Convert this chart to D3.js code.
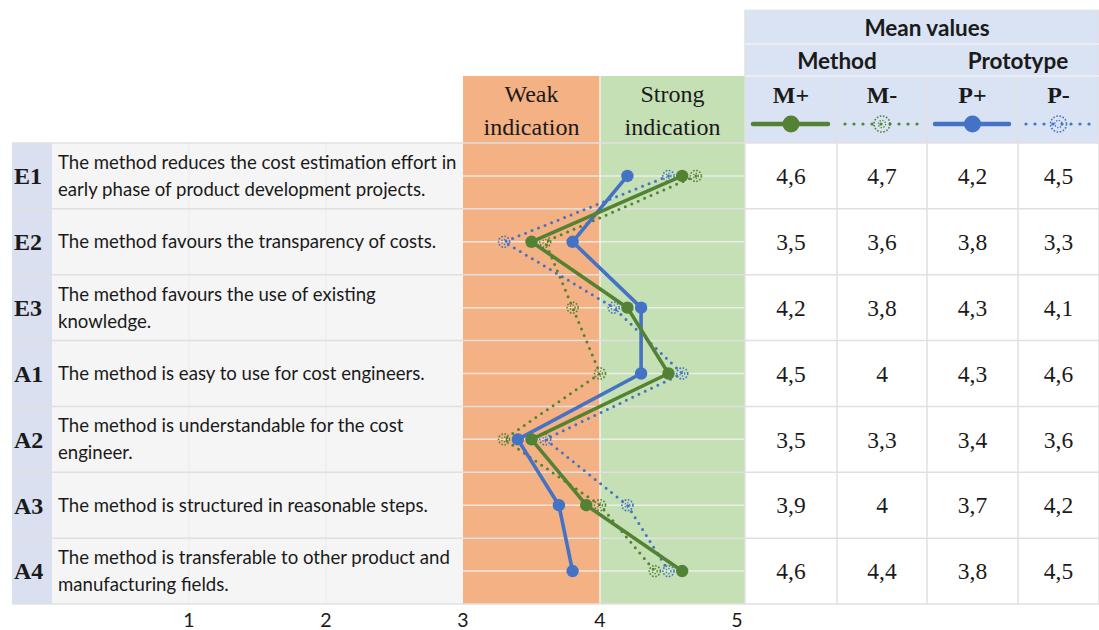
<!DOCTYPE html>
<html>
  <head>
    <style type="text/css">
      body { margin:0; background:#fff; }
      svg text { fill:#1a1a1a; }
      .sans { font-family:Lato,"Open Sans",sans-serif; }
      .serif { font-family:"Liberation Serif","DejaVu Serif",serif; }
    </style>
  </head>
  <body>
    <div id="canvas"></div>
    <script type="text/javascript" src="https://cdn.jsdelivr.net/npm/d3@7"></script>
    <script type="text/javascript">
      // rows of the questionnaire
      var codes = ["E1", "E2", "E3", "A1", "A2", "A3", "A4"];
      var statements = [
        ["The method reduces the cost estimation effort in", "early phase of product development projects."],
        ["The method favours the transparency of costs."],
        ["The method favours the use of existing", "knowledge."],
        ["The method is easy to use for cost engineers."],
        ["The method is understandable for the cost", "engineer."],
        ["The method is structured in reasonable steps."],
        ["The method is transferable to other product and", "manufacturing fields."]
      ];

      // mean values
      var mPlus  = [4.6, 3.5, 4.2, 4.5, 3.5, 3.9, 4.6];
      var mMinus = [4.7, 3.6, 3.8, 4.0, 3.3, 4.0, 4.4];
      var pPlus  = [4.2, 3.8, 4.3, 4.3, 3.4, 3.7, 3.8];
      var pMinus = [4.5, 3.3, 4.1, 4.6, 3.6, 4.2, 4.5];

      var xTicks = [1, 2, 3, 4, 5];
      var seriesNames = ["M+", "M-", "P+", "P-"];

      var GREEN = "#548235", BLUE = "#4472c4";
      var series = [
        {name: "P-", values: pMinus, color: BLUE, dotted: true},
        {name: "M-", values: mMinus, color: GREEN, dotted: true},
        {name: "P+", values: pPlus, color: BLUE, dotted: false},
        {name: "M+", values: mPlus, color: GREEN, dotted: false}
      ];

      var W = 1099, H = 630;
      var svg = d3.select("#canvas").append("svg")
        .attr("width", W).attr("height", H);

      var x = d3.scaleLinear().domain([0, 5]).range([52, 737]);
      var y = d3.scaleBand().domain(codes).range([143, 604]);
      var tableLeft = 745, tableRight = 1099;
      var colEdges = [745, 837, 927, 1018, 1099];

      // backgrounds
      svg.append("rect").attr("x", 12).attr("y", 143).attr("width", 40).attr("height", 461).attr("fill", "#dae0f0");
      svg.append("rect").attr("x", 52).attr("y", 143).attr("width", x(3) - 52).attr("height", 461).attr("fill", "#f5f5f5");
      svg.append("rect").attr("x", x(3)).attr("y", 76).attr("width", x(4) - x(3)).attr("height", 604 - 76).attr("fill", "#f4b183");
      svg.append("rect").attr("x", x(4)).attr("y", 76).attr("width", tableLeft - x(4)).attr("height", 604 - 76).attr("fill", "#c5e0b4");
      svg.append("rect").attr("x", tableLeft).attr("y", 10).attr("width", tableRight - tableLeft).attr("height", 133).attr("fill", "#dae3f3");

      // vertical gridlines
      svg.append("g").selectAll("line").data([1, 2]).enter().append("line")
        .attr("x1", function (d) { return x(d); }).attr("x2", function (d) { return x(d); })
        .attr("y1", 143).attr("y2", 604)
        .attr("stroke", "#ebebeb").attr("stroke-width", 1);
      svg.append("line").attr("x1", x(4)).attr("x2", x(4)).attr("y1", 76).attr("y2", 604)
        .attr("stroke", "#f2f2f2").attr("stroke-width", 1.5);

      // horizontal gridlines (half rows) in the chart zone
      var halfLines = [];
      codes.forEach(function (c) { halfLines.push(y(c) + y.bandwidth() / 2); });
      svg.append("g").selectAll("line").data(halfLines).enter().append("line")
        .attr("x1", x(3)).attr("x2", tableLeft)
        .attr("y1", function (d) { return d; }).attr("y2", function (d) { return d; })
        .attr("stroke", "#f2f2f2").attr("stroke-opacity", 0.8).attr("stroke-width", 1.5);

      // row borders
      var rowEdges = codes.map(function (c) { return y(c); }).concat([604]);
      svg.append("g").selectAll("line").data(rowEdges).enter().append("line")
        .attr("x1", 12).attr("x2", tableRight)
        .attr("y1", function (d) { return d; }).attr("y2", function (d) { return d; })
        .attr("stroke", "#e0e0e0").attr("stroke-width", 1.5);

      // table column borders
      svg.append("g").selectAll("line").data(colEdges).enter().append("line")
        .attr("x1", function (d) { return d; }).attr("x2", function (d) { return d; })
        .attr("y1", function (d, i) { return (i === 0 || i === 4) ? 10 : 76; }).attr("y2", 604)
        .attr("stroke", "#e0e0e0").attr("stroke-width", 1.5);
      svg.append("g").selectAll("line").data([44, 76]).enter().append("line")
        .attr("x1", tableLeft).attr("x2", tableRight)
        .attr("y1", function (d) { return d; }).attr("y2", function (d) { return d; })
        .attr("stroke", "#f0f0f0").attr("stroke-width", 1.5);
      svg.append("line").attr("x1", tableLeft).attr("x2", tableRight).attr("y1", 10).attr("y2", 10)
        .attr("stroke", "#e6e6e6").attr("stroke-width", 1);

      // row codes and statements
      var rows = svg.append("g").selectAll("g").data(codes).enter().append("g")
        .attr("transform", function (d) { return "translate(0," + (y(d) + y.bandwidth() / 2) + ")"; });
      rows.append("text").attr("class", "serif")
        .attr("x", 14).attr("dy", "0.35em")
        .attr("font-size", 24).attr("font-weight", "bold")
        .text(function (d) { return d; });
      rows.each(function (d, i) {
        var lines = statements[i];
        var t = d3.select(this).append("text").attr("class", "sans").attr("font-size", 18.6);
        lines.forEach(function (l, j) {
          t.append("tspan").attr("x", 58)
            .attr("y", (j - (lines.length - 1) / 2) * 27)
            .attr("dy", "0.35em").text(l);
        });
      });

      // chart header
      var bandHeads = [
        {cx: (x(3) + x(4)) / 2, lines: ["Weak", "indication"]},
        {cx: (x(4) + tableLeft) / 2, lines: ["Strong", "indication"]}
      ];
      bandHeads.forEach(function (b) {
        var t = svg.append("text").attr("class", "serif").attr("font-size", 24).attr("text-anchor", "middle");
        b.lines.forEach(function (l, j) {
          t.append("tspan").attr("x", b.cx).attr("y", 94 + j * 33).attr("dy", "0.35em").text(l);
        });
      });

      // table header
      svg.append("text").attr("class", "sans").attr("x", colEdges[2]).attr("y", 28)
        .attr("dy", "0.35em").attr("text-anchor", "middle").attr("font-size", 22.5).attr("font-weight", "bold")
        .text("Mean values");
      svg.append("text").attr("class", "sans").attr("x", colEdges[1]).attr("y", 61)
        .attr("dy", "0.35em").attr("text-anchor", "middle").attr("font-size", 22.5).attr("font-weight", "bold")
        .text("Method");
      svg.append("text").attr("class", "sans").attr("x", colEdges[3]).attr("y", 61)
        .attr("dy", "0.35em").attr("text-anchor", "middle").attr("font-size", 22.5).attr("font-weight", "bold")
        .text("Prototype");

      var colCenter = function (i) { return (colEdges[i] + colEdges[i + 1]) / 2; };
      var colIndex = {"M+": 0, "M-": 1, "P+": 2, "P-": 3};

      // draw a hollow dotted marker
      var hollow = function (g, cx, cy, color, r) {
        g.append("circle").attr("cx", cx).attr("cy", cy).attr("r", r)
          .attr("fill", "none").attr("stroke", color).attr("stroke-width", 1.6)
          .attr("stroke-dasharray", "1.6 1.6");
        g.append("circle").attr("cx", cx).attr("cy", cy).attr("r", r * 0.45)
          .attr("fill", "none").attr("stroke", color).attr("stroke-width", 1.3)
          .attr("stroke-dasharray", "1.3 1.5");
      };

      // legend row
      series.forEach(function (s) {
        var i = colIndex[s.name];
        var cx = colCenter(i);
        svg.append("text").attr("class", "serif").attr("x", cx).attr("y", 95)
          .attr("dy", "0.35em").attr("text-anchor", "middle").attr("font-size", 24).attr("font-weight", "bold")
          .text(s.name);
        var g = svg.append("g");
        g.append("line").attr("x1", colEdges[i] + 8).attr("x2", colEdges[i + 1] - 9)
          .attr("y1", 124).attr("y2", 124)
          .attr("stroke", s.color).attr("stroke-width", s.dotted ? 3.2 : 4.5)
          .attr("stroke-linecap", "round")
          .attr("stroke-dasharray", s.dotted ? "0 9" : null);
        if (s.dotted) {
          hollow(g, cx, 124, s.color, 8);
        } else {
          g.append("circle").attr("cx", cx).attr("cy", 124).attr("r", 8.5).attr("fill", s.color);
        }
      });

      // table values
      var fmt = function (v) { return String(v).replace(".", ","); };
      seriesNames.forEach(function (name) {
        var s = series.filter(function (d) { return d.name === name; })[0];
        var i = colIndex[name];
        svg.append("g").selectAll("text").data(s.values).enter().append("text")
          .attr("class", "serif")
          .attr("x", colCenter(i))
          .attr("y", function (d, k) { return y(codes[k]) + y.bandwidth() / 2; })
          .attr("dy", "0.35em").attr("text-anchor", "middle").attr("font-size", 23.5)
          .text(fmt);
      });

      // lines
      var line = d3.line()
        .x(function (d) { return x(d); })
        .y(function (d, k) { return y(codes[k]) + y.bandwidth() / 2; });

      series.forEach(function (s) {
        var g = svg.append("g");
        g.append("path").datum(s.values)
          .attr("d", line)
          .attr("fill", "none")
          .attr("stroke", s.color)
          .attr("stroke-width", s.dotted ? 3 : 3.6)
          .attr("stroke-linecap", "round")
          .attr("stroke-linejoin", "round")
          .attr("stroke-dasharray", s.dotted ? "0 7" : null);
        s.values.forEach(function (v, k) {
          var cy = y(codes[k]) + y.bandwidth() / 2;
          if (s.dotted) {
            hollow(g, x(v), cy, s.color, 5.5);
          } else {
            g.append("circle").attr("cx", x(v)).attr("cy", cy).attr("r", 6.2).attr("fill", s.color);
          }
        });
      });

      // bottom axis labels
      svg.append("g").selectAll("text").data(xTicks).enter().append("text")
        .attr("class", "sans")
        .attr("x", function (d) { return x(d); })
        .attr("y", 620).attr("dy", "0.35em")
        .attr("text-anchor", "middle").attr("font-size", 19.5).attr("fill", "#222")
        .text(function (d) { return d; });
    </script>
  </body>
</html>
